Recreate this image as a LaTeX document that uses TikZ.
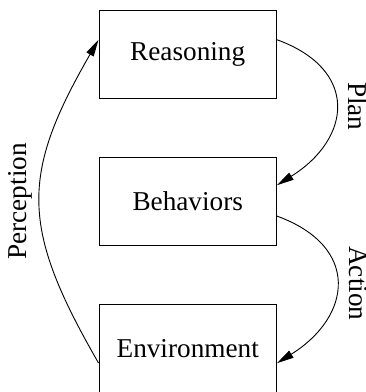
\documentclass[tikz,border=0pt]{standalone}
\usepackage{fontspec}
\setmainfont{Liberation Serif}
\usepackage{tikz}
\usetikzlibrary{arrows.meta, positioning}

\tikzset{
  block/.style={rectangle, draw, minimum width=78.2pt, minimum height=38.8pt, font=\fontsize{12}{14}\selectfont},
  flowlabel/.style={anchor=south, font=\fontsize{12}{14}\selectfont},
}

\begin{document}
\begin{tikzpicture}[>={Triangle[length=7.5pt, width=3.6pt]}, looseness=1.55]
\useasboundingbox (0,0) rectangle (161.2pt,172.7pt);

\path (82.7pt,148.9pt) node[block] (reas) {Reasoning};
\node[block, below=25.6pt of reas] (beh) {Behaviors};
\node[block, below=25.6pt of beh] (env) {Environment};

\draw[->] ([yshift=6.3pt]reas.east) to[out=-20, in=32] node[flowlabel, rotate=-90, inner sep=0pt, outer sep=5.6pt] (plan) {Plan} ([yshift=7pt]beh.east);
\draw[->] ([yshift=-6.6pt]beh.east) to[out=-20, in=32] node[flowlabel, rotate=-90, inner sep=0pt, outer sep=5.6pt] (act) {Action} ([yshift=-6.6pt]env.east);
\draw[->] ([yshift=-6.5pt]env.west) to[out=120, in=240, looseness=1.24] node[flowlabel, rotate=90] (perc) {Perception} ([yshift=6.3pt]reas.west);
\end{tikzpicture}
\end{document}
